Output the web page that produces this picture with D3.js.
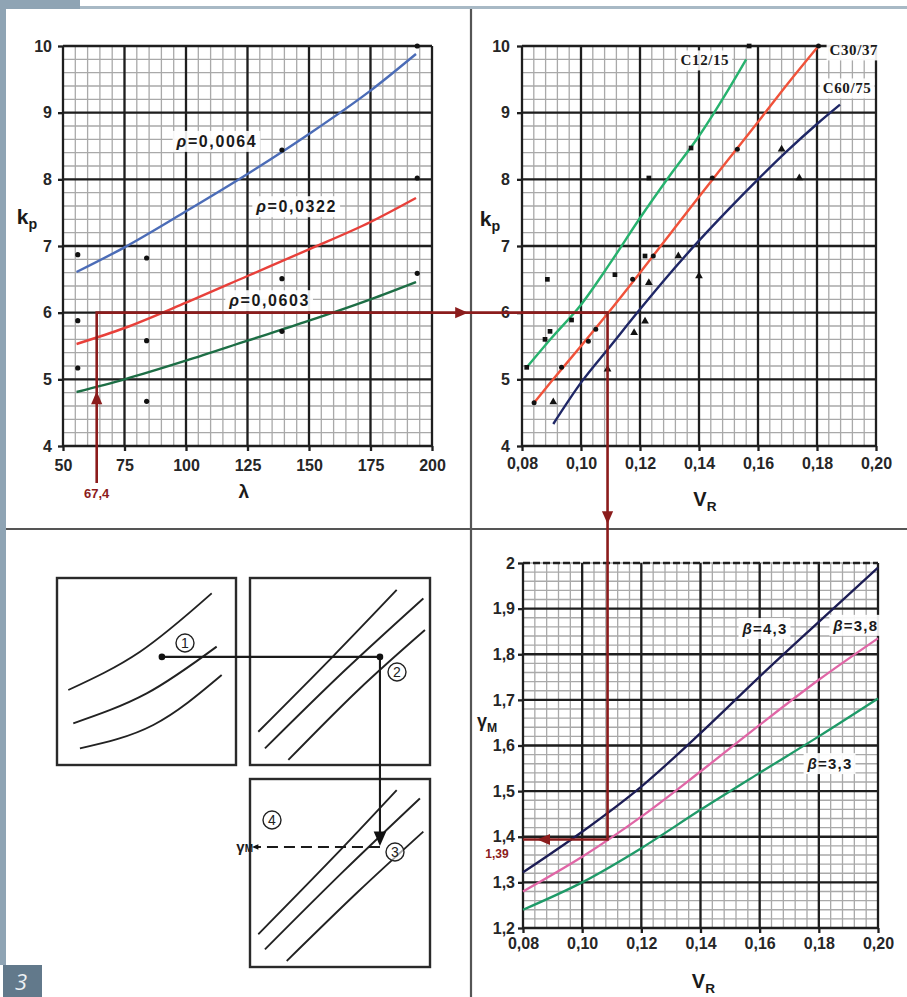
<!DOCTYPE html>
<html><head><meta charset="utf-8">
<script src="https://cdn.jsdelivr.net/npm/d3@7"></script>
<style>body{margin:0;background:#fff} svg{display:block}</style>
</head><body>
<script>
// ---------------- data ----------------
const lambdaTicks = [50,75,100,125,150,175,200];
const lambdaTickLabels = ["50","75","100","125","150","175","200"];
const kpTicks = [4,5,6,7,8,9,10];
const kpTickLabels = ["4","5","6","7","8","9","10"];
const vrTicks = [0.08,0.10,0.12,0.14,0.16,0.18,0.20];
const vrTickLabels = ["0,08","0,10","0,12","0,14","0,16","0,18","0,20"];
const gammaTicks = [1.2,1.3,1.4,1.5,1.6,1.7,1.8,1.9,2.0];
const gammaTickLabels = ["1,2","1,3","1,4","1,5","1,6","1,7","1,8","1,9","2"];

// top-left: kp vs lambda
const lambdaCurve = [55.5,75,100,125,150,175,193.5];
const kpRho0064 = [6.61,6.98,7.52,8.08,8.68,9.33,9.88];
const kpRho0322 = [5.53,5.77,6.15,6.55,6.95,7.36,7.72];
const kpRho0603 = [4.81,5.00,5.28,5.58,5.88,6.20,6.46];
const rhoLabels = ["0,0064","0,0322","0,0603"];
const lambdaPoints = [56,56,56,84,84,84,139,139,139,194,194,194];
const kpPoints = [6.87,5.88,5.17,6.82,5.58,4.67,8.44,6.51,5.72,10.0,8.02,6.59];

// top-right: kp vs VR
const vrC12 = [0.0816,0.09,0.10,0.11,0.12,0.13,0.14,0.15,0.156];
const kpC12 = [5.18,5.62,6.12,6.75,7.42,8.05,8.65,9.35,9.80];
const vrC30 = [0.0841,0.09,0.10,0.11,0.12,0.13,0.14,0.15,0.16,0.17,0.1805];
const kpC30 = [4.65,4.97,5.50,6.04,6.60,7.17,7.74,8.30,8.86,9.43,10.0];
const vrC60 = [0.0906,0.10,0.11,0.12,0.13,0.14,0.15,0.16,0.17,0.18,0.1878];
const kpC60 = [4.33,4.95,5.50,6.05,6.58,7.08,7.55,8.00,8.43,8.83,9.12];
const concreteLabels = ["C12/15","C30/37","C60/75"];
const vrPtsC12 = [0.0816,0.0878,0.0895,0.0968,0.1115,0.1373,0.157,0.0886,0.123,0.1217];
const kpPtsC12 = [5.18,5.60,5.72,5.89,6.57,8.47,10.0,6.50,8.02,6.85];
const vrPtsC30 = [0.0841,0.0934,0.1025,0.1050,0.1175,0.1245,0.1445,0.153,0.1805];
const kpPtsC30 = [4.65,5.18,5.57,5.75,6.50,6.85,8.02,8.45,10.0];
const vrPtsC60 = [0.0906,0.109,0.118,0.1217,0.123,0.133,0.140,0.168,0.174];
const kpPtsC60 = [4.66,5.15,5.70,5.87,6.45,6.85,6.55,8.45,8.02];

// bottom-right: gammaM vs VR
const vrBeta = [0.08,0.10,0.12,0.14,0.16,0.18,0.20];
const gammaBeta43 = [1.322,1.411,1.510,1.627,1.751,1.871,1.990];
const gammaBeta38 = [1.280,1.356,1.444,1.543,1.645,1.744,1.835];
const gammaBeta33 = [1.240,1.300,1.375,1.459,1.540,1.620,1.703];
const betaLabels = ["4,3","3,8","3,3"];

// reading example (construction line)
const lambdaRead = 63.7, lambdaReadLabel = "67,4";
const kpRead = 6, vrRead = 0.109, gammaRead = 1.394, gammaReadLabel = "1,39";

// schematic (unit coordinates inside each small box)
const schemBox1 = [[0.063,0.599],[0.464,0.394],[0.864,0.082]];
const schemBox1b = [[0.091,0.777],[0.501,0.617],[0.892,0.367]];
const schemBox1c = [[0.128,0.911],[0.538,0.786],[0.920,0.519]];
const schemBox2a = [[0.046,0.822],[0.46,0.42],[0.815,0.064]];
const schemBox2b = [[0.083,0.911],[0.52,0.50],[0.963,0.109]];
const schemBox2c = [[0.213,0.973],[0.60,0.60],[0.972,0.278]];
const schemBox3a = [[0.046,0.826],[0.46,0.42],[0.815,0.059]];
const schemBox3b = [[0.083,0.906],[0.52,0.49],[0.944,0.103]];
const schemBox3c = [[0.204,0.968],[0.60,0.60],[0.963,0.280]];

// ---------------- drawing ----------------
const W = 907, H = 997;
const svg = d3.select("body").append("svg").attr("width",W).attr("height",H);
svg.append("rect").attr("width",W).attr("height",H).attr("fill","#fff");
// frame decorations
svg.append("rect").attr("x",80).attr("y",6).attr("width",W-80).attr("height",3).attr("fill","#a8b9c5");
svg.append("rect").attr("x",0).attr("y",0).attr("width",80).attr("height",9).attr("fill","#8fa4b4");
svg.append("rect").attr("x",0).attr("y",0).attr("width",6).attr("height",965).attr("fill","#8fa4b4");
svg.append("rect").attr("x",3).attr("y",965).attr("width",39).attr("height",32).attr("fill","#62798b");
svg.append("text").attr("x",21).attr("y",990).attr("text-anchor","middle")
  .attr("font-family","Open Sans, sans-serif").attr("font-style","italic").attr("font-size",22)
  .attr("fill","#eef2f5").text("3");

const FONT = "Liberation Sans, Arial, sans-serif";
const DARKRED = "#8b1c1c";

// scales
const xTL = d3.scaleLinear([50,200],[63,432]);
const yTL = d3.scaleLinear([4,10],[446,46]);
const xTR = d3.scaleLinear([0.08,0.20],[522,876]);
const yTR = d3.scaleLinear([4,10],[446,46]);
const xBR = d3.scaleLinear([0.08,0.20],[523,878]);
const yBR = d3.scaleLinear([1.2,2.0],[928,563]);

function drawGrid(g, x, y, xMinor, yMinor, xMajor, yMajor, dashedTop) {
  const [x0,x1] = x.range(), [y0,y1] = y.range();
  g.append("g").selectAll("line").data(xMinor).join("line")
    .attr("x1",d=>x(d)).attr("x2",d=>x(d)).attr("y1",y0).attr("y2",y1)
    .attr("stroke","#a9a9a9").attr("stroke-width",1.3);
  g.append("g").selectAll("line").data(yMinor).join("line")
    .attr("y1",d=>y(d)).attr("y2",d=>y(d)).attr("x1",x0).attr("x2",x1)
    .attr("stroke","#a9a9a9").attr("stroke-width",1.3);
  g.append("g").selectAll("line").data(xMajor).join("line")
    .attr("x1",d=>x(d)).attr("x2",d=>x(d)).attr("y1",y0).attr("y2",y1)
    .attr("stroke","#1e1e1e").attr("stroke-width",2.3);
  g.append("g").selectAll("line").data(yMajor).join("line")
    .attr("y1",d=>y(d)).attr("y2",d=>y(d)).attr("x1",x0).attr("x2",x1)
    .attr("stroke","#1e1e1e").attr("stroke-width",2.3)
    .attr("stroke-dasharray",(d,i)=> (dashedTop && i===yMajor.length-1) ? "7,3" : null);
}
function drawAxes(g, x, y, xt, xl, yt, yl, padX, padY) {
  const ax = g.append("g").attr("transform",`translate(0,${y.range()[0]})`)
    .call(d3.axisBottom(x).tickValues(xt).tickFormat((d,i)=>xl[i]).tickSize(5).tickPadding(padX));
  const ay = g.append("g").attr("transform",`translate(${x.range()[0]},0)`)
    .call(d3.axisLeft(y).tickValues(yt).tickFormat((d,i)=>yl[i]).tickSize(5).tickPadding(padY));
  [ax,ay].forEach(a=>{
    a.select(".domain").remove();
    a.selectAll(".tick line").attr("stroke","#1e1e1e").attr("stroke-width",2.3);
    a.selectAll(".tick text").attr("font-family",FONT).attr("font-weight","bold")
      .attr("font-size",16).attr("fill","#262626");
  });
}
function labelBox(g, x, y, parts, size, family, anchor, ls, bg) {
  const t = g.append("text").attr("x",x).attr("y",y).attr("text-anchor",anchor||"middle")
    .attr("dominant-baseline","middle").attr("font-family",family).attr("font-weight","bold")
    .attr("font-size",size).attr("letter-spacing",ls||0).attr("fill","#1a1a1a");
  parts.forEach(p=>t.append("tspan").attr("font-style",p.italic?"italic":null).text(p.t));
  if (bg) {
    const b = t.node().getBBox();
    g.insert("rect", () => t.node()).attr("x",b.x-3).attr("y",b.y-2).attr("width",b.width+6)
      .attr("height",b.height+4).attr("fill","#fff").attr("opacity",0.9);
  }
  return t;
}
function axisTitle(g, x, y, main, sub, size) {
  const t = g.append("text").attr("x",x).attr("y",y).attr("font-family",FONT).attr("font-weight","bold")
    .attr("font-size",size).attr("fill","#1a1a1a").attr("text-anchor","middle");
  t.append("tspan").text(main);
  if (sub) t.append("tspan").attr("font-size",size*0.68).attr("dy",size*0.25).text(sub);
}
const zip = (a,b) => a.map((v,i)=>[v,b[i]]);

// ===== Top-left chart =====
const gTL = svg.append("g");
drawGrid(gTL, xTL, yTL, d3.range(50,200.1,5), d3.range(4,10.01,0.2), lambdaTicks, kpTicks);
drawAxes(gTL, xTL, yTL, lambdaTicks, lambdaTickLabels, kpTicks, kpTickLabels, 9, 6);
const lineTL = d3.line().x(d=>xTL(d[0])).y(d=>yTL(d[1])).curve(d3.curveMonotoneX);
[[kpRho0064,"#4b6cb7"],[kpRho0322,"#e8403a"],[kpRho0603,"#1d6e45"]].forEach(([v,c])=>{
  gTL.append("path").attr("d",lineTL(zip(lambdaCurve,v))).attr("fill","none")
    .attr("stroke",c).attr("stroke-width",2.4);
});
gTL.append("g").selectAll("circle").data(zip(lambdaPoints,kpPoints)).join("circle")
  .attr("cx",d=>xTL(d[0])).attr("cy",d=>yTL(d[1])).attr("r",2.6).attr("fill","#111");
labelBox(gTL, xTL(112.6), yTL(8.55), [{t:"ρ",italic:true},{t:"="+rhoLabels[0]}], 16, FONT, "middle", 1.6, true);
labelBox(gTL, xTL(145), yTL(7.57), [{t:"ρ",italic:true},{t:"="+rhoLabels[1]}], 16, FONT, "middle", 1.6, true);
labelBox(gTL, xTL(134), yTL(6.16), [{t:"ρ",italic:true},{t:"="+rhoLabels[2]}], 16, FONT, "middle", 1.6, true);
axisTitle(gTL, 27, 224, "k", "p", 21);
axisTitle(gTL, xTL(123.5), 498, "λ", null, 19);

// ===== Top-right chart =====
const gTR = svg.append("g");
drawGrid(gTR, xTR, yTR, d3.range(0.08,0.2001,0.004), d3.range(4,10.01,0.2), vrTicks, kpTicks);
drawAxes(gTR, xTR, yTR, vrTicks, vrTickLabels, kpTicks, kpTickLabels, 6.5, 7);
const lineTR = d3.line().x(d=>xTR(d[0])).y(d=>yTR(d[1])).curve(d3.curveMonotoneX);
[[vrC12,kpC12,"#27b26e"],[vrC30,kpC30,"#f0523a"],[vrC60,kpC60,"#1f2766"]].forEach(([vx,vy,c])=>{
  gTR.append("path").attr("d",lineTR(zip(vx,vy))).attr("fill","none").attr("stroke",c).attr("stroke-width",2.4);
});
const sq = d3.symbol().type(d3.symbolSquare).size(22);
const tri = d3.symbol().type(d3.symbolTriangle).size(26);
gTR.append("g").selectAll("path").data(zip(vrPtsC12,kpPtsC12)).join("path")
  .attr("d",sq).attr("transform",d=>`translate(${xTR(d[0])},${yTR(d[1])})`).attr("fill","#111");
gTR.append("g").selectAll("circle").data(zip(vrPtsC30,kpPtsC30)).join("circle")
  .attr("cx",d=>xTR(d[0])).attr("cy",d=>yTR(d[1])).attr("r",2.5).attr("fill","#111");
gTR.append("g").selectAll("path").data(zip(vrPtsC60,kpPtsC60)).join("path")
  .attr("d",tri).attr("transform",d=>`translate(${xTR(d[0])},${yTR(d[1])})`).attr("fill","#111");
const SERIF = "Liberation Serif, Times New Roman, serif";
labelBox(gTR, xTR(0.142), yTR(9.76), [{t:concreteLabels[0]}], 15, SERIF, "middle", 0.6, true);
labelBox(gTR, xTR(0.1925), yTR(9.91), [{t:concreteLabels[1]}], 15, SERIF, "middle", 0.6, true);
labelBox(gTR, xTR(0.1902), yTR(9.34), [{t:concreteLabels[2]}], 15, SERIF, "middle", 0.6, true);
axisTitle(gTR, 490, 226, "k", "p", 21);
axisTitle(gTR, xTR(0.142), 506, "V", "R", 20);

// ===== Bottom-right chart =====
const gBR = svg.append("g");
drawGrid(gBR, xBR, yBR, d3.range(0.08,0.2001,0.004), d3.range(1.2,2.001,0.02), vrTicks, gammaTicks, true);
drawAxes(gBR, xBR, yBR, vrTicks, vrTickLabels, gammaTicks, gammaTickLabels, 4.5, 3);
const lineBR = d3.line().x(d=>xBR(d[0])).y(d=>yBR(d[1])).curve(d3.curveMonotoneX);
[[gammaBeta43,"#1c1d55"],[gammaBeta38,"#e066a6"],[gammaBeta33,"#1f9a68"]].forEach(([v,c])=>{
  gBR.append("path").attr("d",lineBR(zip(vrBeta,v))).attr("fill","none").attr("stroke",c).attr("stroke-width",2.3);
});
labelBox(gBR, xBR(0.1618), yBR(1.853), [{t:"β",italic:true},{t:"="+betaLabels[0]}], 15, FONT, "middle", 1.2, true);
labelBox(gBR, xBR(0.1925), yBR(1.86), [{t:"β",italic:true},{t:"="+betaLabels[1]}], 15, FONT, "middle", 1.2, true);
labelBox(gBR, xBR(0.1838), yBR(1.557), [{t:"β",italic:true},{t:"="+betaLabels[2]}], 15, FONT, "middle", 1.2, true);
axisTitle(gBR, 487, 727, "γ", "M", 18);
axisTitle(gBR, xBR(0.141), 988, "V", "R", 20);

// ===== dividers =====
svg.append("line").attr("x1",471).attr("x2",471).attr("y1",9).attr("y2",H).attr("stroke","#555").attr("stroke-width",2.2);
svg.append("line").attr("x1",6).attr("x2",W).attr("y1",529).attr("y2",529).attr("stroke","#555").attr("stroke-width",2.2);

// ===== construction path (reading example) =====
const gC = svg.append("g");
const px = xTL(lambdaRead), py = yTL(kpRead), vx = xTR(vrRead), gy = yBR(gammaRead);
gC.append("path").attr("fill","none").attr("stroke",DARKRED).attr("stroke-width",2.6)
  .attr("d", d3.line()([[px,483],[px,py],[vx,py],[vx,gy],[xBR(0.08),gy]]));
function arrowHead(g, x, y, dir, s, col) {
  const pts = {
    up:[[x,y-s],[x-s*0.7,y+s*0.6],[x+s*0.7,y+s*0.6]],
    down:[[x,y+s],[x-s*0.7,y-s*0.6],[x+s*0.7,y-s*0.6]],
    right:[[x+s,y],[x-s*0.6,y-s*0.7],[x-s*0.6,y+s*0.7]],
    left:[[x-s,y],[x+s*0.6,y-s*0.7],[x+s*0.6,y+s*0.7]]
  }[dir];
  g.append("path").attr("d","M"+pts.map(p=>p.join(",")).join("L")+"Z").attr("fill",col);
}
arrowHead(gC, px, yTL(4.7), "up", 8, DARKRED);
arrowHead(gC, xTL(200)+28, py, "right", 8, DARKRED);
arrowHead(gC, vx, 516, "down", 8, DARKRED);
arrowHead(gC, xBR(0.0875), gy, "left", 8, DARKRED);
gC.append("text").attr("x",px).attr("y",498).attr("text-anchor","middle").attr("font-family",FONT)
  .attr("font-weight","bold").attr("font-size",13).attr("fill",DARKRED).text(lambdaReadLabel);
gC.append("text").attr("x",497).attr("y",858).attr("text-anchor","middle").attr("font-family",FONT)
  .attr("font-weight","bold").attr("font-size",12).attr("fill",DARKRED).text(gammaReadLabel);

// ===== schematic (bottom-left) =====
const gS = svg.append("g");
const boxes = [[57,578,179,187],[250,578,180,187],[250,779,180,188]];
boxes.forEach(b=>gS.append("rect").attr("x",b[0]).attr("y",b[1]).attr("width",b[2]).attr("height",b[3])
  .attr("fill","none").attr("stroke","#2a2a2a").attr("stroke-width",2.4));
function boxLine(b, pts) {
  const sx = d3.scaleLinear([0,1],[b[0],b[0]+b[2]]), sy = d3.scaleLinear([0,1],[b[1],b[1]+b[3]]);
  gS.append("path").attr("fill","none").attr("stroke","#222").attr("stroke-width",1.9)
    .attr("d", d3.line().x(d=>sx(d[0])).y(d=>sy(d[1])).curve(d3.curveNatural)(pts));
}
[schemBox1,schemBox1b,schemBox1c].forEach(p=>boxLine(boxes[0],p));
[schemBox2a,schemBox2b,schemBox2c].forEach(p=>boxLine(boxes[1],p));
[schemBox3a,schemBox3b,schemBox3c].forEach(p=>boxLine(boxes[2],p));
const s1 = [boxes[0][0]+0.586*boxes[0][2], boxes[0][1]+0.422*boxes[0][3]];
const s2 = [boxes[1][0]+0.722*boxes[1][2], s1[1]];
const s3y = boxes[2][1]+0.335*boxes[2][3];
gS.append("path").attr("fill","none").attr("stroke","#1a1a1a").attr("stroke-width",2.1)
  .attr("d", d3.line()([s1,s2,[s2[0],s3y-10]]));
[s1,s2].forEach(p=>gS.append("circle").attr("cx",p[0]).attr("cy",p[1]).attr("r",3.3).attr("fill","#111"));
arrowHead(gS, s2[0], s3y-5, "down", 9, "#111");
gS.append("line").attr("x1",s2[0]).attr("x2",boxes[2][0]+6).attr("y1",s3y+5).attr("y2",s3y+5)
  .attr("stroke","#1a1a1a").attr("stroke-width",1.8).attr("stroke-dasharray","11,6");
arrowHead(gS, boxes[2][0]+6, s3y+5, "left", 4, "#111");
const tg = gS.append("text").attr("x",253).attr("y",s3y+10).attr("text-anchor","end").attr("font-family",FONT)
  .attr("font-weight","bold").attr("font-size",15).attr("fill","#1a1a1a");
tg.append("tspan").text("γ"); tg.append("tspan").attr("font-size",10).text("M");
function circled(x, y, n) {
  gS.append("circle").attr("cx",x).attr("cy",y).attr("r",9).attr("fill","#fff").attr("fill-opacity",0.6)
    .attr("stroke","#222").attr("stroke-width",1.4);
  gS.append("text").attr("x",x).attr("y",y+5).attr("text-anchor","middle").attr("font-family",FONT)
    .attr("font-size",14).attr("fill","#222").text(n);
}
circled(185,643,"1");
circled(397,672,"2");
circled(395,852,"3");
circled(272,820,"4");
</script>
</body></html>
